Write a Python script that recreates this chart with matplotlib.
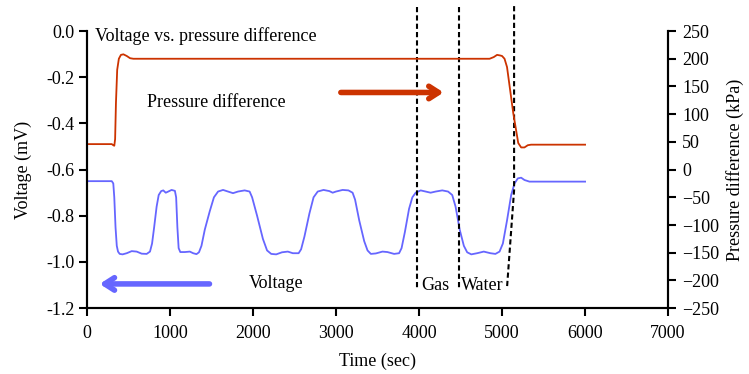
import numpy as np
import matplotlib
matplotlib.use("Agg")
from matplotlib import pyplot as plt

plt.rcParams['font.family'] = ['Liberation Serif', 'DejaVu Serif']

# voltage trace (time in sec, voltage in mV)
volt_t = [0, 300, 318, 330, 345, 360, 375, 395, 430, 480, 540, 600, 660, 720,
          760, 785, 810, 840, 865, 895, 920, 950, 980, 1020, 1060, 1075, 1090,
          1105, 1125, 1180, 1240, 1280, 1320, 1350, 1380, 1420, 1480, 1530,
          1580, 1640, 1700, 1760, 1820, 1900, 1960, 1990, 2050, 2120, 2170,
          2220, 2280, 2350, 2420, 2480, 2550, 2580, 2620, 2680, 2730, 2780,
          2850, 2920, 2960, 3000, 3080, 3150, 3200, 3230, 3280, 3340, 3380,
          3420, 3480, 3560, 3620, 3700, 3760, 3790, 3830, 3880, 3920, 3960,
          4020, 4080, 4140, 4200, 4280, 4350, 4400, 4440, 4490, 4540, 4580,
          4630, 4700, 4780, 4860, 4920, 4970, 5010, 5060, 5110, 5150, 5190,
          5230, 5270, 5330, 6000]
volt_v = [-0.65, -0.65, -0.66, -0.72, -0.85, -0.93, -0.955, -0.965, -0.967,
          -0.962, -0.953, -0.955, -0.964, -0.965, -0.955, -0.92, -0.85, -0.76,
          -0.71, -0.693, -0.69, -0.70, -0.695, -0.688, -0.692, -0.72, -0.85,
          -0.94, -0.957, -0.957, -0.955, -0.962, -0.966, -0.958, -0.93, -0.86,
          -0.78, -0.72, -0.695, -0.688, -0.695, -0.702, -0.695, -0.69, -0.695,
          -0.72, -0.80, -0.90, -0.95, -0.965, -0.967, -0.958, -0.955, -0.962,
          -0.962, -0.945, -0.89, -0.79, -0.72, -0.695, -0.688, -0.693, -0.70,
          -0.695, -0.688, -0.69, -0.70, -0.73, -0.82, -0.91, -0.95, -0.965,
          -0.963, -0.955, -0.957, -0.965, -0.962, -0.94, -0.87, -0.77, -0.72,
          -0.70, -0.69, -0.695, -0.70, -0.695, -0.69, -0.695, -0.71, -0.76,
          -0.86, -0.93, -0.958, -0.967, -0.962, -0.955, -0.962, -0.965,
          -0.955, -0.92, -0.82, -0.71, -0.66, -0.638, -0.635, -0.645, -0.652,
          -0.652]

# pressure difference trace (time in sec, kPa)
pres_t = [0, 300, 318, 330, 340, 350, 365, 385, 410, 440, 480, 520, 560,
          4850, 4900, 4940, 4975, 5000, 5030, 5060, 5135, 5195, 5230, 5270,
          5310, 5350, 6000]
pres_v = [46, 46, 44, 43, 55, 120, 180, 200, 207, 208, 205, 201, 200,
          200, 203, 207, 206, 205, 200, 185, 102, 48, 40, 40, 44, 45, 45]

# phase boundaries (time in sec)
gas_start = 3980
gas_end = 4480
water_end = 5145

red = "#CC3300"
blue = "#6666FF"
fs = 13

fig = plt.figure(figsize=(7.49, 3.74), dpi=100)
ax = fig.add_axes([0.116, 0.176, 0.776, 0.741])
ax2 = ax.twinx()

ax.plot(volt_t, volt_v, color=blue, lw=1.3)
ax2.plot(pres_t, pres_v, color=red, lw=1.3)

ax.set_xlim(0, 7000)
ax.set_ylim(-1.2, 0)
ax2.set_ylim(-250, 250)
ax.set_xticks(np.arange(0, 7001, 1000))
yt = [-1.2, -1.0, -0.8, -0.6, -0.4, -0.2, 0.0]
ax.set_yticks(yt)
ax.set_yticklabels(["%.1f" % v if v != 0 else "0.0" for v in yt])
ax2.set_yticks(np.arange(-250, 251, 50))

for a in (ax, ax2):
    a.spines['top'].set_visible(False)
    for s in a.spines.values():
        s.set_linewidth(1.5)
    a.tick_params(width=1.5, length=6, labelsize=fs, direction='out', pad=3)
ax.tick_params(axis='x', pad=6)
ax2.tick_params(axis='y', pad=4)

ax.set_xlabel("Time (sec)", fontsize=fs, labelpad=8)
ax.set_ylabel("Voltage (mV)", fontsize=fs, labelpad=10)
ax2.set_ylabel("Pressure difference (kPa)", fontsize=fs, labelpad=5)

# dashed phase boundaries
dash = dict(color="black", lw=1.5, ls=(0, (2.5, 1.5)), clip_on=False)
ax.plot([gas_start, gas_start], [0.104, -1.115], **dash)
ax.plot([gas_end, gas_end], [0.104, -1.115], **dash)
ax.plot([water_end, water_end, 5060], [0.108, -0.69, -1.11], **dash)

# arrows
ax.annotate("", xy=(4330, -0.266), xytext=(3025, -0.266),
            arrowprops=dict(arrowstyle="->,head_length=0.7,head_width=0.45",
                            color=red, lw=4))
ax.annotate("", xy=(120, -1.095), xytext=(1510, -1.095),
            arrowprops=dict(arrowstyle="->,head_length=0.7,head_width=0.45",
                            color=blue, lw=4))

ax.text(95, -0.02, "Voltage vs. pressure difference", fontsize=fs, va="center")
ax.text(720, -0.31, "Pressure difference", fontsize=fs, va="center")
ax.text(1950, -1.093, "Voltage", fontsize=fs, va="center")
ax.text(4030, -1.10, "Gas", fontsize=fs, va="center")
ax.text(4500, -1.10, "Water", fontsize=fs, va="center")

fig.savefig("out.png", dpi=100)
